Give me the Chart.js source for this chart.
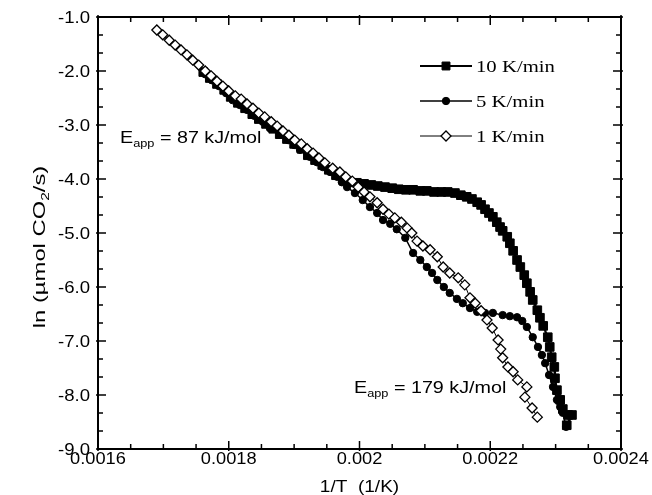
<!DOCTYPE html>
<html>
<head>
<meta charset="utf-8">
<script src="https://cdn.jsdelivr.net/npm/chart.js@4.4.1/dist/chart.umd.min.js"></script>
<style>
  html, body { margin: 0; padding: 0; background: #fff; }
</style>
</head>
<body>
<canvas id="chart" width="652" height="495"></canvas>
<script>
// axis ticks
const xTicks = [0.0016, 0.0018, 0.002, 0.0022, 0.0024];
const xTickLabels = ['0.0016', '0.0018', '0.002', '0.0022', '0.0024'];
const yTicks = [-1, -2, -3, -4, -5, -6, -7, -8, -9];
const yTickLabels = ['-1.0', '-2.0', '-3.0', '-4.0', '-5.0', '-6.0', '-7.0', '-8.0', '-9.0'];

const seriesNames = ['10 K/min', '5 K/min', '1 K/min'];

// 10 K/min (filled squares)
const x10 = [0.001761, 0.001771, 0.001782, 0.001793, 0.001803, 0.001814, 0.001825, 0.001836, 0.001846, 0.001857,
    0.001868, 0.001878, 0.001889, 0.001900, 0.001911, 0.001921, 0.001932, 0.001943, 0.001953, 0.001964,
    0.001975, 0.001985, 0.001996, 0.002007, 0.002018, 0.002028, 0.002039, 0.002050, 0.002060, 0.002071,
    0.002082, 0.002093, 0.002103, 0.002114, 0.002125, 0.002135, 0.002146, 0.002155, 0.002164, 0.002172,
    0.002180, 0.002186, 0.002192, 0.002198, 0.002204, 0.002210, 0.002215, 0.002219, 0.002226, 0.002230,
    0.002235, 0.002241, 0.002246, 0.002252, 0.002256, 0.002261, 0.002265, 0.002272, 0.002276, 0.002281,
    0.002288, 0.002291, 0.002294, 0.002298, 0.002299, 0.002302, 0.002307, 0.002311, 0.002319, 0.002325, 0.002317];
const y10 = [-2.02, -2.13, -2.24, -2.35, -2.48, -2.59, -2.69, -2.80, -2.89, -2.98,
    -3.07, -3.17, -3.26, -3.35, -3.44, -3.56, -3.65, -3.74, -3.83, -3.93,
    -4.00, -4.06, -4.07, -4.09, -4.11, -4.13, -4.15, -4.17, -4.19, -4.20,
    -4.20, -4.22, -4.22, -4.24, -4.24, -4.24, -4.26, -4.30, -4.33, -4.37,
    -4.43, -4.48, -4.56, -4.63, -4.70, -4.80, -4.89, -4.96, -5.07, -5.19,
    -5.33, -5.50, -5.63, -5.78, -5.93, -6.09, -6.24, -6.43, -6.57, -6.72,
    -6.93, -7.11, -7.30, -7.48, -7.69, -7.91, -8.09, -8.26, -8.37, -8.37, -8.56];

// 5 K/min (filled circles)
const x5 = [0.001764, 0.001774, 0.001785, 0.001796, 0.001806, 0.001817, 0.001828, 0.001839, 0.001852, 0.001863,
    0.001878, 0.001891, 0.001900, 0.001909, 0.001924, 0.001935, 0.001944, 0.001955, 0.001966, 0.001973,
    0.001981, 0.001993, 0.002005, 0.002016, 0.002027, 0.002036, 0.002047, 0.002057, 0.002070, 0.002082,
    0.002093, 0.002103, 0.002111, 0.002119, 0.002129, 0.002138, 0.002149, 0.002158, 0.002169, 0.002180,
    0.002192, 0.002204, 0.002219, 0.002230, 0.002241, 0.002249, 0.002256, 0.002265, 0.002273, 0.002279,
    0.002284, 0.002290, 0.002296, 0.002302, 0.002307, 0.002311, 0.002316];
const y5 = [-2.06, -2.17, -2.28, -2.41, -2.54, -2.63, -2.72, -2.83, -2.94, -3.06,
    -3.15, -3.28, -3.37, -3.46, -3.59, -3.69, -3.78, -3.87, -3.96, -4.06,
    -4.15, -4.26, -4.39, -4.52, -4.63, -4.76, -4.83, -4.93, -5.09, -5.37,
    -5.50, -5.63, -5.74, -5.87, -6.00, -6.11, -6.22, -6.30, -6.39, -6.46,
    -6.48, -6.48, -6.52, -6.54, -6.56, -6.63, -6.74, -6.93, -7.11, -7.26,
    -7.41, -7.63, -7.85, -8.09, -8.22, -8.33, -8.59];

// 1 K/min (open diamonds)
const x1 = [0.001690, 0.001699, 0.001709, 0.001718, 0.001727, 0.001736, 0.001745, 0.001754, 0.001764, 0.001773,
    0.001782, 0.001791, 0.001800, 0.001810, 0.001819, 0.001828, 0.001837, 0.001846, 0.001855, 0.001865,
    0.001874, 0.001883, 0.001892, 0.001901, 0.001911, 0.001920, 0.001929, 0.001938, 0.001947, 0.001959,
    0.001970, 0.001979, 0.001989, 0.001998, 0.002007, 0.002016, 0.002027, 0.002036, 0.002045, 0.002054,
    0.002064, 0.002073, 0.002080, 0.002088, 0.002097, 0.002108, 0.002119, 0.002128, 0.002138, 0.002151,
    0.002161, 0.002169, 0.002177, 0.002186, 0.002195, 0.002203, 0.002212, 0.002216, 0.002219, 0.002227,
    0.002235, 0.002242, 0.002256, 0.002253, 0.002264, 0.002272];
const y1 = [-1.24, -1.33, -1.43, -1.52, -1.61, -1.70, -1.80, -1.89, -2.00, -2.09,
    -2.19, -2.28, -2.37, -2.46, -2.52, -2.61, -2.69, -2.78, -2.85, -2.94,
    -3.02, -3.11, -3.19, -3.28, -3.35, -3.44, -3.52, -3.61, -3.70, -3.80,
    -3.87, -3.96, -4.04, -4.15, -4.24, -4.33, -4.44, -4.56, -4.65, -4.72,
    -4.80, -4.91, -5.00, -5.15, -5.24, -5.31, -5.44, -5.63, -5.74, -5.83,
    -5.96, -6.20, -6.30, -6.44, -6.61, -6.76, -6.98, -7.15, -7.31, -7.48,
    -7.57, -7.72, -7.85, -8.04, -8.24, -8.41];

const toPoints = (xs, ys) => xs.map((x, i) => ({ x: x, y: ys[i] }));

const SANS = '"Liberation Sans", Arial, Helvetica, sans-serif';
const SERIF = '"Liberation Serif", "Times New Roman", serif';

// marker + line styles, shared by datasets and legend
const styles = [
    { pointStyle: 'rect', radius: 6.1, fill: '#000', lineWidth: 2.2, pointBorder: 1 },
    { pointStyle: 'circle', radius: 3.7, fill: '#000', lineWidth: 1.5, pointBorder: 1 },
    { pointStyle: 'rectRot', radius: 5, fill: '#fff', lineWidth: 1, pointBorder: 1.3 }
];

// the original lettering runs a bit wide, so text is stretched along its baseline
// parts: [{t, size, dy}]
function partsWidth(ctx, parts, family, sx) {
    let w = 0;
    parts.forEach(p => {
        ctx.font = p.size + 'px ' + family;
        w += ctx.measureText(p.t).width * sx;
    });
    return w;
}
function drawParts(ctx, parts, x, y, o) {
    const family = o.family || SANS;
    const sx = o.sx || 1;
    const w = partsWidth(ctx, parts, family, sx);
    let cx = x;
    if (o.align === 'center') cx = x - w / 2;
    else if (o.align === 'right') cx = x - w;
    ctx.save();
    ctx.textAlign = 'left';
    ctx.textBaseline = o.baseline || 'alphabetic';
    parts.forEach(p => {
        ctx.font = p.size + 'px ' + family;
        ctx.save();
        ctx.translate(cx, y + (p.dy || 0));
        ctx.scale(sx, 1);
        ctx.fillText(p.t, 0, 0);
        ctx.restore();
        cx += ctx.measureText(p.t).width * sx;
    });
    ctx.restore();
}

function drawMarker(ctx, st, x, y) {
    ctx.save();
    ctx.fillStyle = st.fill;
    ctx.strokeStyle = '#000';
    ctx.lineWidth = st.pointBorder;
    ctx.beginPath();
    if (st.pointStyle === 'rect') {
        const h = 5.6 * Math.SQRT1_2;
        ctx.rect(x - h, y - h, 2 * h, 2 * h);
    } else if (st.pointStyle === 'circle') {
        ctx.arc(x, y, st.radius, 0, Math.PI * 2);
    } else {
        const r = st.radius;
        ctx.moveTo(x - r, y); ctx.lineTo(x, y - r); ctx.lineTo(x + r, y); ctx.lineTo(x, y + r); ctx.closePath();
    }
    ctx.fill();
    ctx.stroke();
    ctx.restore();
}

const framePlugin = {
    id: 'frame',
    afterDraw(chart) {
        const ctx = chart.ctx;
        const a = chart.chartArea;
        const xs = chart.scales.x, ys = chart.scales.y;
        ctx.save();
        ctx.strokeStyle = '#000';
        ctx.fillStyle = '#000';

        // box
        ctx.lineWidth = 2;
        ctx.strokeRect(a.left, a.top, a.right - a.left, a.bottom - a.top);

        // inward ticks on all four sides
        ctx.lineWidth = 1.5;
        ctx.beginPath();
        for (let i = 0; i < xTicks.length; i++) {
            const px = xs.getPixelForValue(xTicks[i]);
            ctx.moveTo(px, a.bottom + 2); ctx.lineTo(px, a.bottom - 8);
            ctx.moveTo(px, a.top - 2); ctx.lineTo(px, a.top + 8);
            if (i < xTicks.length - 1) {
                const step = (xTicks[i + 1] - xTicks[i]) / 4;
                for (let k = 1; k < 4; k++) {
                    const mx = xs.getPixelForValue(xTicks[i] + step * k);
                    ctx.moveTo(mx, a.bottom); ctx.lineTo(mx, a.bottom - 5);
                    ctx.moveTo(mx, a.top); ctx.lineTo(mx, a.top + 5);
                }
            }
        }
        for (let i = 0; i < yTicks.length; i++) {
            const py = ys.getPixelForValue(yTicks[i]);
            ctx.moveTo(a.left - 2, py); ctx.lineTo(a.left + 8, py);
            ctx.moveTo(a.right + 2, py); ctx.lineTo(a.right - 8, py);
            if (i < yTicks.length - 1) {
                const step = (yTicks[i + 1] - yTicks[i]) / 3;
                for (let k = 1; k < 3; k++) {
                    const my = ys.getPixelForValue(yTicks[i] + step * k);
                    ctx.moveTo(a.left, my); ctx.lineTo(a.left + 5, my);
                    ctx.moveTo(a.right, my); ctx.lineTo(a.right - 5, my);
                }
            }
        }
        ctx.stroke();

        // tick labels
        xTicks.forEach((v, i) => {
            drawParts(ctx, [{ t: xTickLabels[i], size: 16 }], xs.getPixelForValue(v), a.bottom + 15, { align: 'center', sx: 1.14 });
        });
        yTicks.forEach((v, i) => {
            drawParts(ctx, [{ t: yTickLabels[i], size: 16 }], a.left - 8, ys.getPixelForValue(v) + 6, { align: 'right', sx: 1.16 });
        });

        // axis titles
        drawParts(ctx, [{ t: '1/T  (1/K)', size: 17 }], (a.left + a.right) / 2, 492, { align: 'center', sx: 1.12 });
        ctx.save();
        ctx.translate(39, 247);
        ctx.rotate(-Math.PI / 2);
        drawParts(ctx, [{ t: 'ln (\u00b5mol CO', size: 17 }, { t: '2', size: 11, dy: 4 }, { t: '/s)', size: 17 }],
            0, 6, { align: 'center', sx: 1.4 });
        ctx.restore();

        // activation energy notes
        drawParts(ctx, [{ t: 'E', size: 17 }, { t: 'app', size: 11, dy: 4 }, { t: ' = 87 kJ/mol', size: 17 }], 120, 143, { sx: 1.16 });
        drawParts(ctx, [{ t: 'E', size: 17 }, { t: 'app', size: 11, dy: 4 }, { t: ' = 179 kJ/mol', size: 17 }], 354, 393, { sx: 1.16 });

        // legend
        const rowY = [66, 101, 136];
        seriesNames.forEach((name, i) => {
            const st = styles[i];
            ctx.lineWidth = st.lineWidth;
            ctx.beginPath();
            ctx.moveTo(420, rowY[i]); ctx.lineTo(472, rowY[i]);
            ctx.stroke();
            drawMarker(ctx, st, 446, rowY[i]);
            drawParts(ctx, [{ t: name, size: 17 }], 476, rowY[i] + 6, { family: SERIF, sx: 1.22 });
        });
        ctx.restore();
    }
};

const datasets = [x10, x5, x1].map((xs, i) => {
    const ys = [y10, y5, y1][i];
    const st = styles[i];
    return {
        label: seriesNames[i],
        data: toPoints(xs, ys),
        showLine: true,
        borderColor: '#000',
        borderWidth: st.lineWidth,
        pointStyle: st.pointStyle,
        pointRadius: st.radius,
        pointBackgroundColor: st.fill,
        pointBorderColor: '#000',
        pointBorderWidth: st.pointBorder,
        tension: 0,
        order: 3 - i
    };
});

new Chart(document.getElementById('chart'), {
    type: 'scatter',
    data: { datasets: datasets },
    options: {
        responsive: false,
        animation: false,
        devicePixelRatio: 1,
        layout: { padding: { left: 98, right: 31, top: 17, bottom: 46 } },
        scales: {
            x: { type: 'linear', min: 0.0016, max: 0.0024, display: false },
            y: { type: 'linear', min: -9, max: -1, display: false }
        },
        plugins: {
            legend: { display: false },
            tooltip: { enabled: false }
        }
    },
    plugins: [framePlugin]
});
</script>
</body>
</html>
